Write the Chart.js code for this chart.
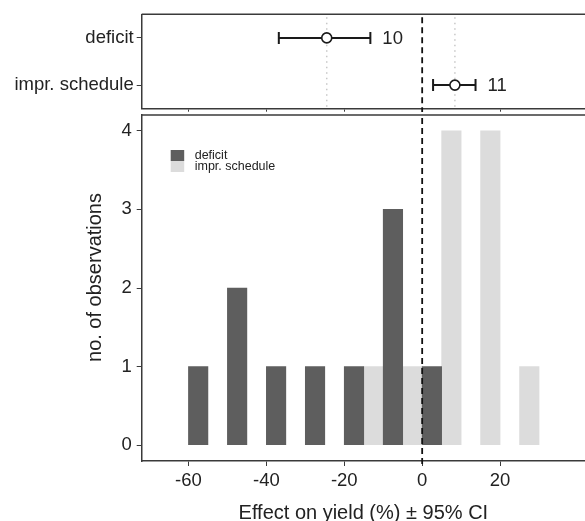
<!DOCTYPE html>
<html>
<head>
<meta charset="utf-8">
<script src="https://cdn.jsdelivr.net/npm/chart.js@4.4.0/dist/chart.umd.min.js"></script>
<style>
  html, body { margin: 0; padding: 0; background: #fff; }
  canvas { position: absolute; left: 0; }
  #topChart { top: 0; }
  #histChart { top: 112px; }
</style>
</head>
<body>
<canvas id="topChart" width="585" height="112"></canvas>
<canvas id="histChart" width="585" height="409"></canvas>
<script>
// histogram bins (bin start, width 10) and counts per group
const binStarts = [-60, -50, -40, -30, -20, -10, 0, 10, 20];
const deficitCounts = [1, 2, 1, 1, 1, 3, 1, 0, 0];
const imprCounts = [0, 0, 0, 0, 1, 1, 4, 4, 1];

// mean effect and 95% CI per group
const groups = ["deficit", "impr. schedule"];
const means = [-24.5, 8.4];
const ciLow = [-36.8, 2.8];
const ciHigh = [-13.3, 13.7];
const nObs = [10, 11];

const xTicks = [-60, -40, -20, 0, 20];
const yTicks = [0, 1, 2, 3, 4];
const yTitle = "no. of observations";

const FONT = "'Liberation Sans', Arial, sans-serif";
const INK = "#222";
const FRAME = "#3a3a3a";
const DARK = "#5e5e5e";
const LIGHT = "#dcdcdc";

function keepXTicks(scale) {
  scale.ticks = scale.ticks.filter(t => xTicks.indexOf(t.value) >= 0);
}
function noPad(scale) {
  scale.paddingTop = 0; scale.paddingBottom = 0;
  scale.paddingLeft = 0; scale.paddingRight = 0;
}

// dashed line at zero, drawn in both panels
const zeroLine = {
  id: "zeroLine",
  afterDatasetsDraw(chart) {
    const { ctx, chartArea } = chart;
    const x = chart.scales.x.getPixelForValue(0);
    ctx.save();
    ctx.strokeStyle = "#111";
    ctx.lineWidth = 1.8;
    ctx.setLineDash([6, 4]);
    ctx.beginPath();
    ctx.moveTo(x, chartArea.top + 3);
    ctx.lineTo(x, chartArea.bottom + 4);
    ctx.stroke();
    ctx.restore();
  }
};

// top edge of the panel frame
const frameTop = {
  id: "frameTop",
  afterDraw(chart) {
    const { ctx, chartArea } = chart;
    ctx.save();
    ctx.strokeStyle = FRAME;
    ctx.lineWidth = 1.5;
    ctx.beginPath();
    ctx.moveTo(chartArea.left, chartArea.top);
    ctx.lineTo(chartArea.right, chartArea.top);
    ctx.stroke();
    ctx.restore();
  }
};

// error bars, dotted mean lines and n labels
const errorBars = {
  id: "errorBars",
  beforeDatasetsDraw(chart) {
    const { ctx, chartArea } = chart;
    const xs = chart.scales.x, ys = chart.scales.y;
    ctx.save();
    ctx.strokeStyle = "#c8c8c8";
    ctx.lineWidth = 1.5;
    ctx.setLineDash([1.5, 4]);
    means.forEach(m => {
      const x = xs.getPixelForValue(m);
      ctx.beginPath();
      ctx.moveTo(x, chartArea.top + 3);
      ctx.lineTo(x, chartArea.bottom);
      ctx.stroke();
    });
    ctx.setLineDash([]);
    ctx.strokeStyle = "#1a1a1a";
    ctx.lineWidth = 2;
    groups.forEach((g, i) => {
      const y = ys.getPixelForValue(i);
      const x0 = xs.getPixelForValue(ciLow[i]);
      const x1 = xs.getPixelForValue(ciHigh[i]);
      ctx.beginPath();
      ctx.moveTo(x0, y); ctx.lineTo(x1, y);
      ctx.moveTo(x0, y - 6); ctx.lineTo(x0, y + 6);
      ctx.moveTo(x1, y - 6); ctx.lineTo(x1, y + 6);
      ctx.stroke();
      ctx.fillStyle = INK;
      ctx.font = "18.5px " + FONT;
      ctx.textBaseline = "middle";
      ctx.textAlign = "left";
      ctx.fillText(String(nObs[i]), x1 + 12, y + 1);
    });
    ctx.restore();
  }
};

// legend inside the histogram panel + y title placed like the original
const boxLegend = {
  id: "boxLegend",
  afterDraw(chart) {
    const { ctx, chartArea } = chart;
    const x = chartArea.left + 29, y = chartArea.top + 35;
    ctx.save();
    ctx.font = "12.5px " + FONT;
    ctx.textBaseline = "middle";
    ctx.textAlign = "left";
    chart.data.datasets.forEach((ds, i) => {
      ctx.fillStyle = ds.backgroundColor;
      ctx.fillRect(x, y + i * 11, 13.5, 11);
      ctx.fillStyle = INK;
      ctx.fillText(ds.label, x + 24, y + i * 11 + 5.5);
    });
    ctx.translate(95, chartArea.top + 162.5);
    ctx.rotate(-Math.PI / 2);
    ctx.font = "20px " + FONT;
    ctx.textAlign = "center";
    ctx.fillText(yTitle, 0, 0);
    ctx.restore();
  }
};

new Chart(document.getElementById("topChart"), {
  type: "scatter",
  data: {
    datasets: [{
      data: means.map((m, i) => ({ x: m, y: groups[i] })),
      pointRadius: 5,
      pointBackgroundColor: "#fff",
      pointBorderColor: "#1a1a1a",
      pointBorderWidth: 1.6
    }]
  },
  options: {
    responsive: false,
    animation: false,
    layout: { autoPadding: false, padding: { top: 14.3, right: 0, left: 0, bottom: 0 } },
    plugins: { legend: { display: false }, tooltip: { enabled: false } },
    scales: {
      x: {
        type: "linear", min: -72, max: 41.8, offset: false,
        afterBuildTicks: keepXTicks,
        afterFit(s) { s.height = 3.3; noPad(s); },
        ticks: { display: false, stepSize: 20, includeBounds: false },
        grid: { offset: false, drawOnChartArea: false, drawTicks: true, tickLength: 3, color: FRAME },
        border: { color: FRAME, width: 1.5 }
      },
      y: {
        type: "category", labels: groups, offset: true,
        afterFit(s) { s.width = 141.7; noPad(s); },
        ticks: { color: INK, font: { family: FONT, size: 18.5 }, padding: 3 },
        grid: { drawOnChartArea: false, tickLength: 5, color: FRAME },
        border: { color: FRAME, width: 1.5 }
      }
    }
  },
  plugins: [errorBars, zeroLine, frameTop]
});

new Chart(document.getElementById("histChart"), {
  type: "bar",
  data: {
    datasets: [
      {
        label: "deficit",
        data: binStarts.map((b, i) => ({ x: b + 5, y: deficitCounts[i] })).filter(p => p.y > 0),
        backgroundColor: DARK
      },
      {
        label: "impr. schedule",
        data: binStarts.map((b, i) => ({ x: b + 5, y: imprCounts[i] })).filter(p => p.y > 0),
        backgroundColor: LIGHT
      }
    ]
  },
  options: {
    responsive: false,
    animation: false,
    layout: { padding: { top: 3, right: 0, left: 0, bottom: 0 } },
    datasets: { bar: { categoryPercentage: 1, barPercentage: 1, borderWidth: 0 } },
    plugins: { legend: { display: false }, tooltip: { enabled: false } },
    scales: {
      x: {
        type: "linear", min: -72, max: 41.8, offset: false,
        afterBuildTicks: keepXTicks,
        afterFit(s) { s.height = 60; noPad(s); },
        ticks: { stepSize: 20, includeBounds: false, color: INK, font: { family: FONT, size: 18.5 }, padding: 4, maxRotation: 0 },
        grid: { offset: false, drawOnChartArea: false, tickLength: 5, color: FRAME },
        border: { color: FRAME, width: 1.5 },
        title: { display: true, text: "Effect on yield (%) ± 95% CI", color: INK,
                 font: { family: FONT, size: 20 }, padding: { top: 0, bottom: -4 } }
      },
      y: {
        min: -0.2, max: 4.2,
        afterBuildTicks(s) { s.ticks = s.ticks.filter(t => yTicks.indexOf(t.value) >= 0); },
        afterFit(s) { s.width = 141.7; noPad(s); },
        ticks: { stepSize: 1, includeBounds: false, color: INK, font: { family: FONT, size: 18.5 }, padding: 5 },
        grid: { drawOnChartArea: false, tickLength: 5, color: FRAME },
        border: { color: FRAME, width: 1.5 }
      }
    }
  },
  plugins: [zeroLine, frameTop, boxLegend]
});
</script>
</body>
</html>
